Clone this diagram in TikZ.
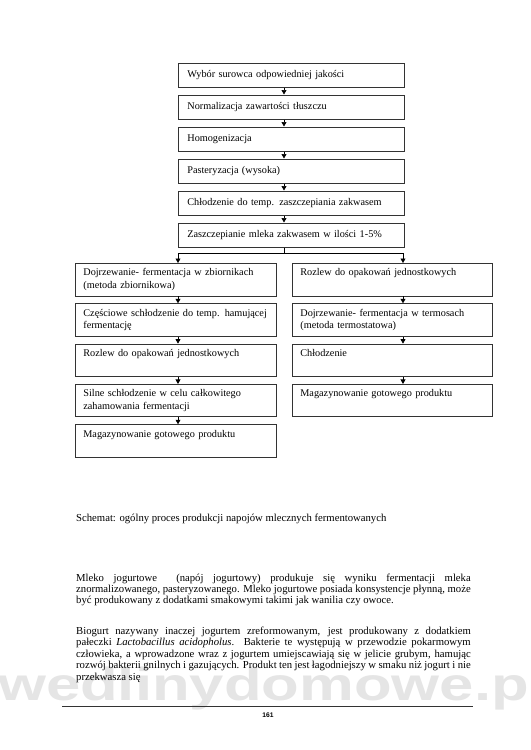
\documentclass[tikz,border=0pt]{standalone}
\usepackage{fontspec}
\usepackage{graphicx}
\setmainfont{Liberation Serif}
\newfontfamily\wmfont{Liberation Sans}
\usetikzlibrary{arrows.meta,calc}
\begin{document}
\begin{tikzpicture}[x=1.1226pt,y=-1.1226pt,
  tbox/.style={draw=black!80, line width=0.8pt, anchor=north west, align=left,
    inner xsep=10.1pt, inner ysep=0pt, text width=233.5pt,
    minimum width=253.7pt, minimum height=27.5pt,
    font=\fontsize{11.5}{13.8}\selectfont},
  lbox/.style={draw=black!80, line width=0.8pt, anchor=north west, align=left,
    inner xsep=9pt, inner ysep=0pt, text width=207.6pt,
    minimum width=225.6pt, minimum height=36.5pt,
    font=\fontsize{11.5}{13.8}\selectfont},
  rbox/.style={lbox, text width=206.5pt, minimum width=224.5pt},
  conn/.style={line width=0.7pt, black},
  arr/.style={conn, -{Triangle[length=5pt,width=5.5pt]}},
  ptext/.style={anchor=base west, inner sep=0pt, font=\fontsize{12}{13.8}\selectfont},
  wm/.style={anchor=base, inner sep=0pt, text=black!10,
    font=\wmfont\bfseries\fontsize{52}{52}\selectfont}
]
\useasboundingbox[fill=white] (0,0) rectangle (530,750);

% watermark
\node[wm] (wm) at (272,700) {\scalebox{1.33}[1]{wedlinydomowe.pl}};

% top chain
\node[tbox] (b1) at (178,62.5) {\strut Wybór surowca odpowiedniej jakości};
\node[tbox] (b2) at (178,94.5) {\strut Normalizacja zawartości tłuszczu};
\node[tbox] (b3) at (178,126.5) {\strut Homogenizacja};
\node[tbox] (b4) at (178,158.5) {\strut Pasteryzacja (wysoka)};
\node[tbox] (b5) at (178,190.5) {\strut Chłodzenie do temp. zaszczepiania zakwasem};
\node[tbox] (b6) at (178,222.5) {\strut Zaszczepianie mleka zakwasem w ilości 1-5\%};

% left column
\node[lbox] (l1) at (75,263) {\strut Dojrzewanie- fermentacja w zbiornikach\\\strut (metoda zbiornikowa)};
\node[lbox] (l2) at (75,303.3) {\strut Częściowe schłodzenie do temp. hamującej\\\strut fermentację};
\node[lbox] (l3) at (75,343.6) {\strut Rozlew do opakowań jednostkowych\\\strut};
\node[lbox] (l4) at (75,383.9) {\strut Silne schłodzenie w celu całkowitego\\\strut zahamowania fermentacji};
\node[lbox] (l5) at (75,424.2) {\strut Magazynowanie gotowego produktu\\\strut};

% right column
\node[rbox] (r1) at (292,263) {\strut Rozlew do opakowań jednostkowych\\\strut};
\node[rbox] (r2) at (292,303.3) {\strut Dojrzewanie- fermentacja w termosach\\\strut (metoda termostatowa)};
\node[rbox] (r3) at (292,343.6) {\strut Chłodzenie\\\strut};
\node[rbox] (r4) at (292,383.9) {\strut Magazynowanie gotowego produktu\\\strut};

% connector columns
\coordinate (ax) at (284,0);
\coordinate (axl) at (178,0);
\coordinate (axr) at (403,0);
\coordinate (split) at (284,253);

\draw[arr] (b1.south -| ax) -- (b2.north -| ax);
\draw[arr] (b2.south -| ax) -- (b3.north -| ax);
\draw[arr] (b3.south -| ax) -- (b4.north -| ax);
\draw[arr] (b4.south -| ax) -- (b5.north -| ax);
\draw[arr] (b5.south -| ax) -- (b6.north -| ax);
\draw[conn] (b6.south -| ax) -- (split);
\draw[conn] (split -| axl) -- (split -| axr);
\draw[arr] (split -| axl) -- (l1.north -| axl);
\draw[arr] (split -| axr) -- (r1.north -| axr);

\draw[arr] (l1.south -| axl) -- (l2.north -| axl);
\draw[arr] (l2.south -| axl) -- (l3.north -| axl);
\draw[arr] (l3.south -| axl) -- (l4.north -| axl);
\draw[arr] (l4.south -| axl) -- (l5.north -| axl);

\draw[arr] (r1.south -| axr) -- (r2.north -| axr);
\draw[arr] (r2.south -| axr) -- (r3.north -| axr);
\draw[arr] (r3.south -| axr) -- (r4.north -| axr);

% caption and body text
\node[ptext] (cap) at (76,521) {Schemat: ogólny proces produkcji napojów mlecznych fermentowanych};

\node[ptext] (p1a) at (76,581) {\makebox[443pt][s]{Mleko jogurtowe\ \ (napój jogurtowy) produkuje się wyniku fermentacji mleka}};
\node[ptext] (p1b) at (76,592) {\makebox[443pt][s]{znormalizowanego, pasteryzowanego. Mleko jogurtowe posiada konsystencje płynną, może}};
\node[ptext] (p1c) at (76,603) {być produkowany z dodatkami smakowymi takimi jak wanilia czy owoce.};

\node[ptext] (p2a) at (76,634) {\makebox[443pt][s]{Biogurt nazywany inaczej jogurtem zreformowanym, jest produkowany z dodatkiem}};
\node[ptext] (p2b) at (76,645.5) {\makebox[443pt][s]{pałeczki \textit{Lactobacillus acidopholus}. Bakterie te występują w przewodzie pokarmowym}};
\node[ptext] (p2c) at (76,657) {\makebox[443pt][s]{człowieka, a wprowadzone wraz z jogurtem umiejscawiają się w jelicie grubym, hamując}};
\node[ptext] (p2d) at (76,668.5) {\makebox[443pt][s]{rozwój bakterii gnilnych i gazujących. Produkt ten jest łagodniejszy w smaku niż jogurt i nie}};
\node[ptext] (p2e) at (76,680) {przekwasza się};

% footer
\draw[line width=0.9pt, black!80] (62,706) -- (473,706);
\node[anchor=base, inner sep=0pt, font=\wmfont\bfseries\fontsize{7.5}{8}\selectfont] (pg) at (268,717) {161};
\end{tikzpicture}
\end{document}
